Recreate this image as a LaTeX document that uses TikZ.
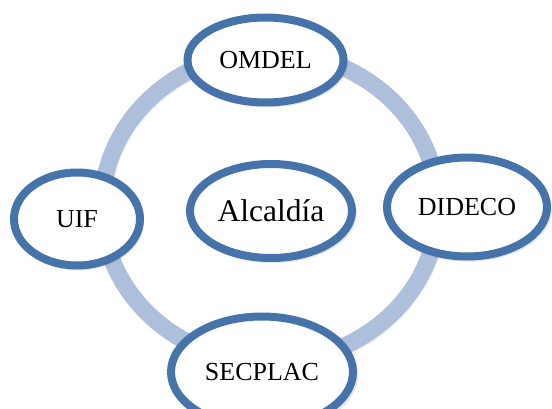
\documentclass[tikz,border=0pt]{standalone}
\usepackage{fontspec}
\setmainfont{Liberation Serif}
\usepackage{tikz}
\usetikzlibrary{positioning,shapes.geometric,shadows}
\definecolor{ringblue}{RGB}{174,191,219}
\definecolor{rimblue}{RGB}{70,115,170}

\begin{document}
\begin{tikzpicture}[x=1pt,y=-1pt,on grid,
        unit/.style={ellipse, draw=rimblue, line width=8pt, fill=white, inner sep=0pt,
            font=\fontsize{26}{30}\selectfont,
            drop shadow={shadow xshift=1.5pt, shadow yshift=-3pt, opacity=.2, shadow scale=1.04}},
        ring/.style={draw=ringblue, line width=17pt}]
            \useasboundingbox (0,0) rectangle (552,409);
            \coordinate (hub) at (270,207);
            \draw[black, opacity=.05, line width=16pt] ([shift={(1,2)}]hub) ellipse [x radius=168, y radius=155];
            \draw[ring] (hub) ellipse [x radius=168, y radius=155];
            \node[unit, minimum width=162pt, minimum height=94pt, font=\fontsize{31.5}{36}\selectfont]
                (alcaldia) at (271,211) {Alcaldía};
            \node[unit, minimum width=156pt, minimum height=85pt] (omdel) [above left=151pt and 5.5pt of alcaldia] {OMDEL};
            \node[unit, minimum width=160pt, minimum height=99pt] (dideco) [above right=4pt and 196pt of alcaldia] {DIDECO};
            \node[unit, minimum width=126pt, minimum height=93pt] (uif) [below left=8pt and 194pt of alcaldia] {UIF};
            \node[unit, minimum width=182pt, minimum height=111pt] (secplac) [below left=161pt and 9pt of alcaldia] {SECPLAC};
        \end{tikzpicture}
\end{document}
